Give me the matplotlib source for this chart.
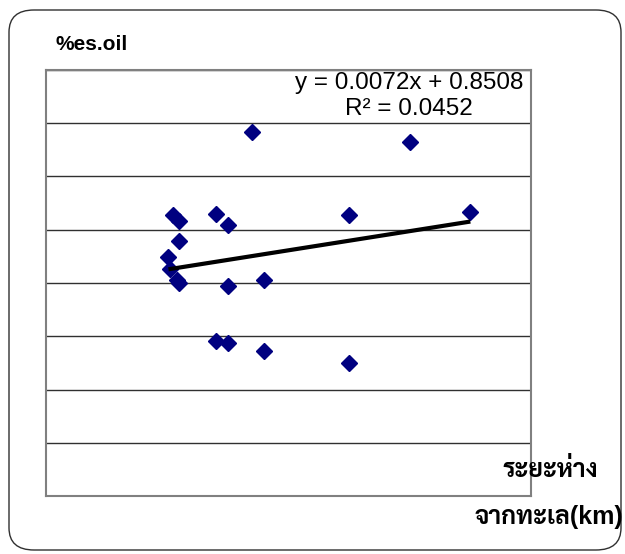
import numpy as np
import matplotlib
matplotlib.use("Agg")
import matplotlib.pyplot as plt
from matplotlib.patches import FancyBboxPatch

# distance from sea (km) and %es.oil
dist = [0.5, 1, 4, 5, 1, 0.1, 0.2, 0.8, 1, 5, 8, 4, 5, 8, 15, 7, 20, 15, 25]
oil = [1.055, 1.034, 1.059, 1.017, 0.959, 0.897, 0.853, 0.811, 0.799, 0.789,
       0.811, 0.583, 0.574, 0.545, 0.501, 1.366, 1.328, 1.055, 1.068]

slope = 0.0072
intercept = 0.8508
r2 = 0.0452

y_label = "%es.oil"
x_label = ["ระยะห่าง", "จากทะเล(km)"]

plt.rcParams['font.family'] = ['Liberation Sans', 'Sarabun', 'DejaVu Sans']

W, H = 625, 554
fig = plt.figure(figsize=(W / 100, H / 100), dpi=100)

def fx(px):
    return px / W

def fy(py):
    return 1 - py / H

# outer rounded frame
frame = FancyBboxPatch((fx(9), fy(550)), fx(612), 540 / H,
                       boxstyle="round,pad=0,rounding_size=0.04",
                       transform=fig.transFigure, facecolor='none',
                       edgecolor='#303030', linewidth=1.0, zorder=0)
fig.patches.append(frame)

ax = fig.add_axes([fx(46), fy(496), fx(531) - fx(46), fy(70) - fy(496)])
ax.set_xlim(-10, 30)
ax.set_ylim(0, 1.6)
ax.set_yticks(np.arange(0, 1.61, 0.2))
ax.set_xticks([])
ax.tick_params(left=False, labelleft=False)
ax.grid(axis='y', color='#303030', linewidth=1.0)
for s in ax.spines.values():
    s.set_color('#808080')
    s.set_linewidth(1.5)

ax.plot(dist, oil, 'D', color='#000080', markersize=8.5, zorder=3)

xs = np.array([min(dist), max(dist)])
ax.plot(xs, slope * xs + intercept, color='black', linewidth=3, zorder=4,
        solid_capstyle='butt')

fig.text(fx(409), fy(83), "y = %.4fx + %.4f" % (slope, intercept),
         ha='center', va='center', fontsize=17.5)
fig.text(fx(409), fy(109), "R² = %.4f" % r2, ha='center', va='center', fontsize=17.5)

fig.text(fx(55), fy(45), y_label, ha='left', va='center', fontsize=15, fontweight='bold')
fig.text(fx(598), fy(470), x_label[0], ha='right', va='center', fontsize=18, fontweight='bold')
fig.text(fx(623), fy(517), x_label[1], ha='right', va='center', fontsize=18, fontweight='bold')

fig.savefig("out.png", dpi=100)
